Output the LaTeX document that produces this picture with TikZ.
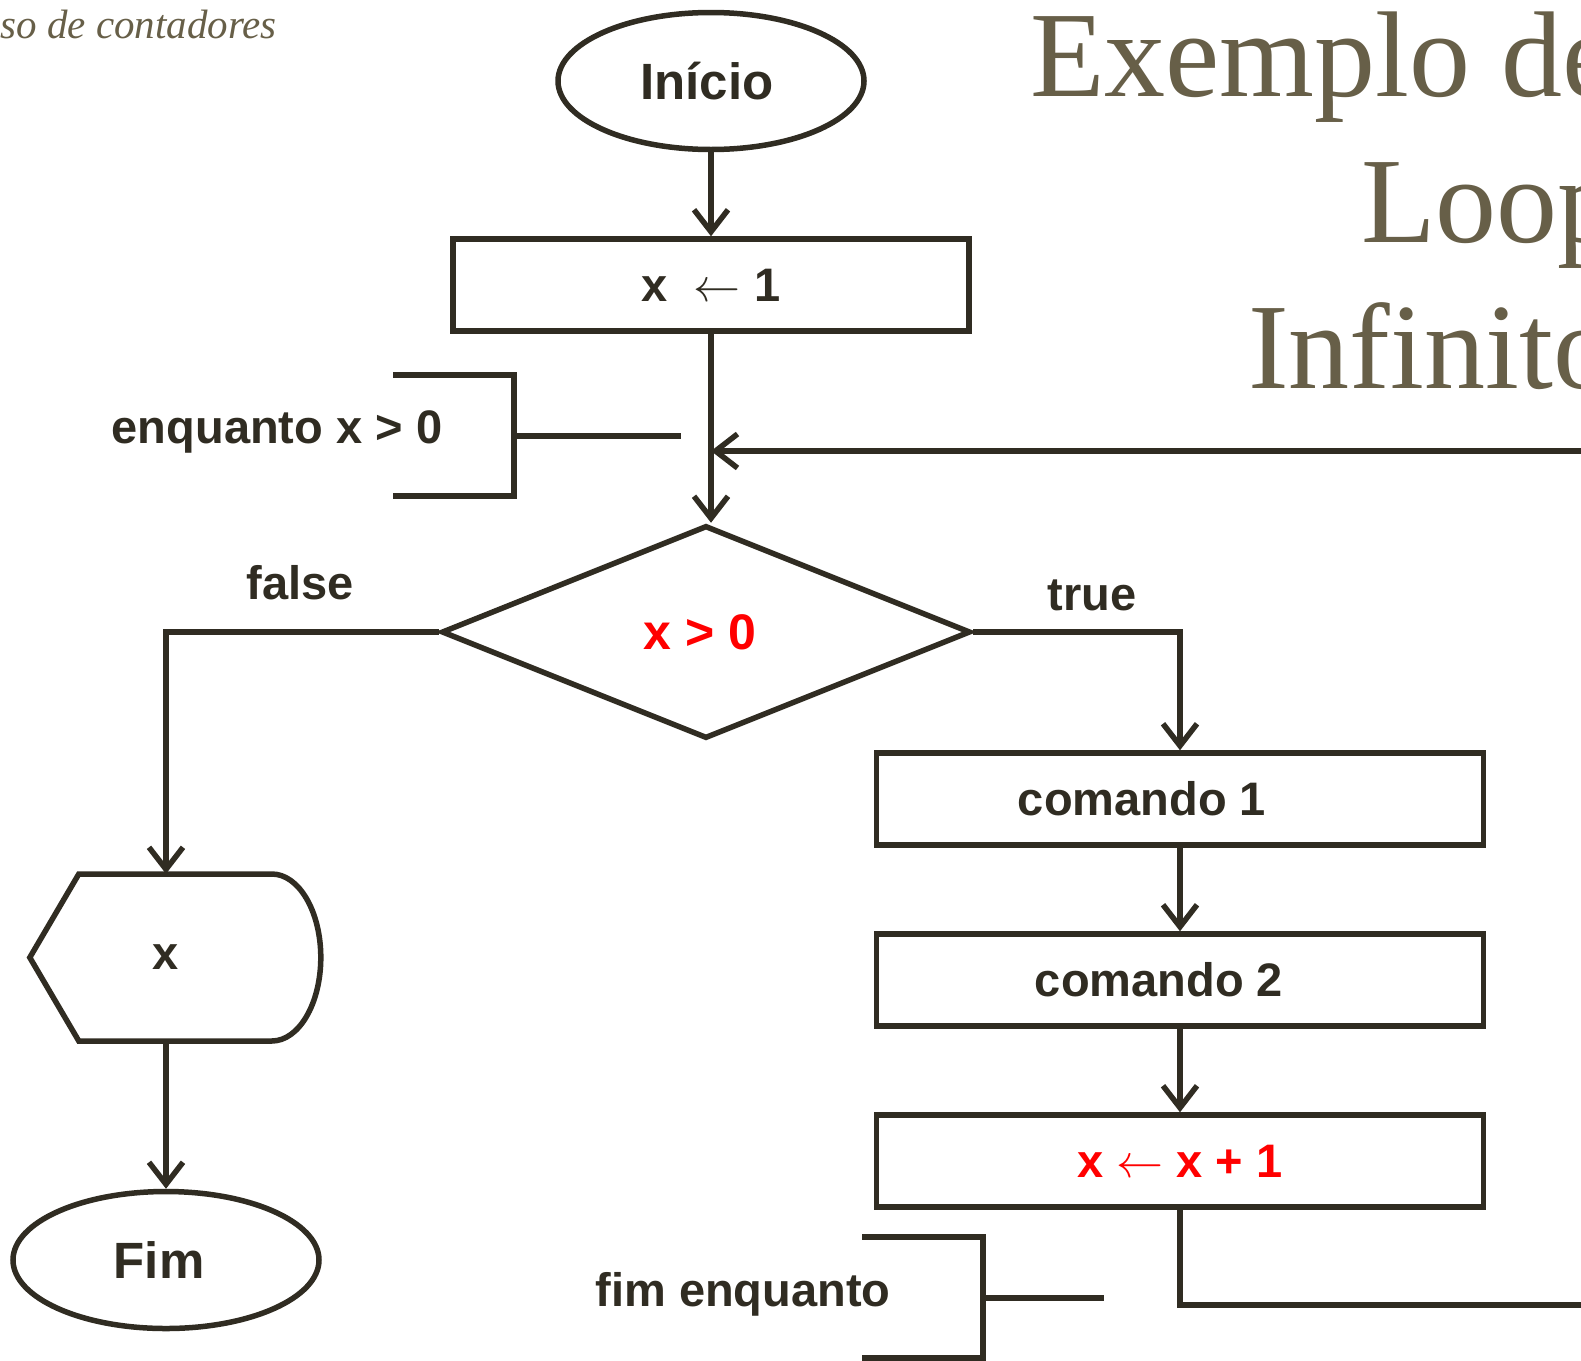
\RequirePackage{fix-cm}
\documentclass[tikz,border=0pt]{standalone}
\usepackage{fontspec}
\setmainfont{Liberation Sans}
\newfontfamily\titulo{Liberation Serif}
\usetikzlibrary{arrows.meta,shapes.geometric}
\definecolor{traco}{HTML}{302C22}
\definecolor{oliva}{HTML}{675F48}
\definecolor{vermelho}{HTML}{FF0000}
\definecolor{cinzaFundo}{HTML}{DADADA}
\pgfdeclareradialshading{fundo}{\pgfpoint{0bp}{0bp}}{color(0bp)=(white); color(38bp)=(white); color(71bp)=(cinzaFundo)}
\newcommand{\atrib}{$\leftarrow$}

\begin{document}
\begin{tikzpicture}[x=1pt,y=-1pt,
  linha/.style={draw=traco,line width=5.5pt},
  seta/.style={linha,-{Straight Barb[length=22pt,width=34pt]}},
  texto/.style={text=traco,font=\fontsize{47}{50}\selectfont\bfseries},
  caixa/.style={linha,texto,rectangle,minimum width=607pt,minimum height=92pt,inner sep=0pt},
  terminal/.style={linha,ellipse,minimum width=306pt,minimum height=137pt,inner sep=0pt,text=traco,font=\fontsize{51}{55}\selectfont\bfseries}]
\useasboundingbox (0,0) rectangle (1581,1360);
\clip (0,0) rectangle (1581,1360);
\shade[shading=fundo] (0,0) rectangle (1581,1360);
% titulo
\node[anchor=base east,inner sep=0pt,text=oliva,font=\titulo\itshape\fontsize{41}{46}\selectfont] (sub) at (277,38) {so de contadores};
\node[anchor=base west,inner sep=0pt,text=oliva,font=\titulo\fontsize{122}{130}\selectfont] (tit1) at (1030,96) {Exemplo de};
\node[anchor=base west,inner sep=0pt,text=oliva,font=\titulo\fontsize{122}{130}\selectfont] (tit2) at (1361,242) {Loop};
\node[anchor=base west,inner sep=0pt,text=oliva,font=\titulo\fontsize{122}{130}\selectfont] (tit3) at (1248,388) {Infinito};
% fluxograma
\node[terminal] (inicio) at (711,81) {\hspace*{-8pt}Início};
\node[caixa,minimum width=516pt] (ini) at (711,285) {x\hspace{0.55em}\atrib\hspace{0.3em}1};
\node[linha,diamond,minimum width=529pt,minimum height=213pt,inner sep=0pt,text=vermelho,font=\fontsize{50}{54}\selectfont\bfseries] (teste) at (706,632) {x > 0\hspace*{12pt}};
\coordinate (juncao) at (711,451);
\node[caixa] (cmd1) at (1180,799) {comando 1\hspace*{76pt}};
\node[caixa] (cmd2) at (1180,980) {comando 2\hspace*{42pt}};
\node[caixa,text=vermelho] (incr) at (1180,1161) {x \atrib{} x + 1};
\node[minimum width=272pt,minimum height=167pt,inner sep=0pt,texto] (saida) at (166,957.5) {x};
\node[terminal] (fim) at (166,1260) {Fim\hspace*{14pt}};
\draw[linha] (saida.west) -- ++(49,-83.5) -- ++(193,0)
  arc[start angle=90,end angle=-90,x radius=49pt,y radius=83.5pt] -- ++(-193,0) -- cycle;
% setas
\draw[seta] (inicio.south) -- (inicio.south |- ini.north);
\draw[seta] (ini.south) -- (ini.south |- teste.north);
\draw[seta] (teste.west) -| (saida.north);
\draw[seta] (teste.east) -| (cmd1.north);
\draw[seta] (cmd1) -- (cmd2);
\draw[seta] (cmd2) -- (incr);
\draw[seta] (saida.south) -- (fim.north);
\draw[seta] (incr.south) |- (1620,1305) |- (juncao);
\node[texto] (falso) at (300,583) {false};
\node[texto] (verdade) at (1092,595) {true};
% colchetes
\node[texto] (enq) at (277,432) {enquanto x > 0};
\draw[linha] (393,375) -- (514,375) -- (514,496) -- (393,496);
\draw[linha] (514,436) -- (681,436);
\node[texto] (fimenq) at (743,1294) {fim enquanto};
\draw[linha] (862,1237) -- (983,1237) -- (983,1358) -- (862,1358);
\draw[linha] (983,1298) -- (1104,1298);
\end{tikzpicture}
\end{document}
